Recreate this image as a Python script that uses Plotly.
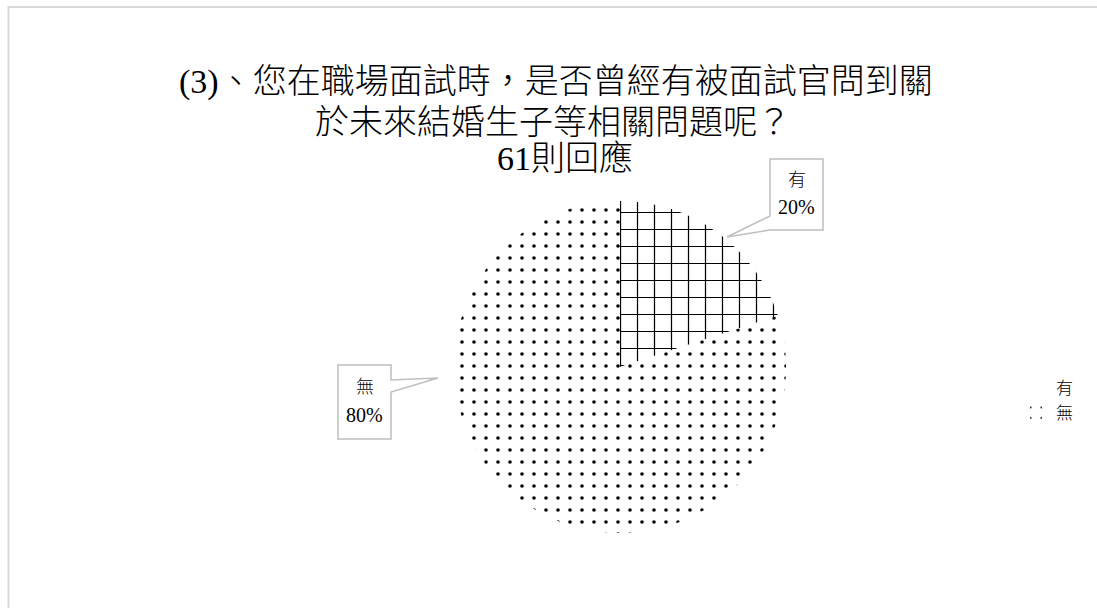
import plotly.graph_objects as go

W, H = 1097, 608

labels = ["有", "無"]
values = [20, 80]
patterns = ["+", "."]
title_lines = ["(3)、您在職場面試時，是否曾經有被面試官問到關",
               "於未來結婚生子等相關問題呢？",
               "61則回應"]

FONT = "Liberation Serif, Noto Sans CJK TC, serif"

def px(x):
    return x / W

def py(y):
    return 1 - y / H

cx, cy, r = 620, 367, 166

fig = go.Figure()
fig.add_trace(go.Pie(
    labels=labels, values=values, sort=False, direction="clockwise", rotation=0,
    textinfo="none", hoverinfo="label+percent",
    marker=dict(colors=["white", "white"], line=dict(width=0),
                pattern=dict(shape=patterns, fgcolor="black", bgcolor="white", fgopacity=1,
                             size=[17, 12], solidity=[0.14, 0.07], fillmode="overlay")),
    domain=dict(x=[px(cx - r), px(cx + r)], y=[py(cy + r), py(cy - r)]),
))

annotations = []
for t, xx, yy in zip(title_lines, [556, 553, 565], [82, 122, 158]):
    annotations.append(dict(text=t, x=px(xx), y=py(yy), xref="paper", yref="paper",
                            showarrow=False, xanchor="center", yanchor="middle",
                            font=dict(family=FONT, size=34, color="black", weight=300)))

callouts = [
    (labels[0], values[0], (770, 159, 823, 230), ((770, 216), (727, 237))),
    (labels[1], values[1], (338, 365, 391, 439), ((391, 380), (438, 378), (391, 392))),
]
shapes = []
for lab, val, (x0, y0, x1, y1), tail in callouts:
    xm = (x0 + x1) / 2
    annotations.append(dict(text=lab, x=px(xm), y=py(y0 + (y1 - y0) * 0.3), xref="paper", yref="paper",
                            showarrow=False, xanchor="center", yanchor="middle",
                            font=dict(family=FONT, size=18, color="black", weight=300)))
    annotations.append(dict(text=f"{val}%", x=px(xm), y=py(y0 + (y1 - y0) * 0.68), xref="paper", yref="paper",
                            showarrow=False, xanchor="center", yanchor="middle",
                            font=dict(family=FONT, size=20, color="black")))
    if len(tail) == 2:
        a1, tip = tail
        pts = [(x0, y0), (x1, y0), (x1, y1), (x0, y1), tip, a1, (x0, y0)]
    else:
        a1, tip, a2 = tail
        pts = [(x0, y0), (x1, y0), a1, tip, a2, (x1, y1), (x0, y1), (x0, y0)]
    path = "M " + " L ".join(f"{px(a)},{py(b)}" for a, b in pts) + " Z"
    shapes.append(dict(type="path", path=path, xref="paper", yref="paper",
                       line=dict(color="#bfbfbf", width=1.5), fillcolor="white", layer="above"))

shapes.append(dict(type="rect", xref="paper", yref="paper", x0=px(8.5), y0=py(630), x1=px(1120), y1=py(7),
                   line=dict(color="#d9d9d9", width=2), fillcolor="rgba(0,0,0,0)", layer="below"))

fig.update_layout(
    width=W, height=H, margin=dict(l=0, r=0, t=0, b=0),
    paper_bgcolor="white", plot_bgcolor="white",
    annotations=annotations, shapes=shapes,
    showlegend=True,
    legend=dict(x=px(1016), y=py(370), xanchor="left", yanchor="top",
                font=dict(family=FONT, size=17, color="black", weight=300),
                itemwidth=30, bgcolor="rgba(0,0,0,0)"),
)

fig.write_html("out.html", config={"displayModeBar": False},
               post_script="document.body.style.margin='0px';")
